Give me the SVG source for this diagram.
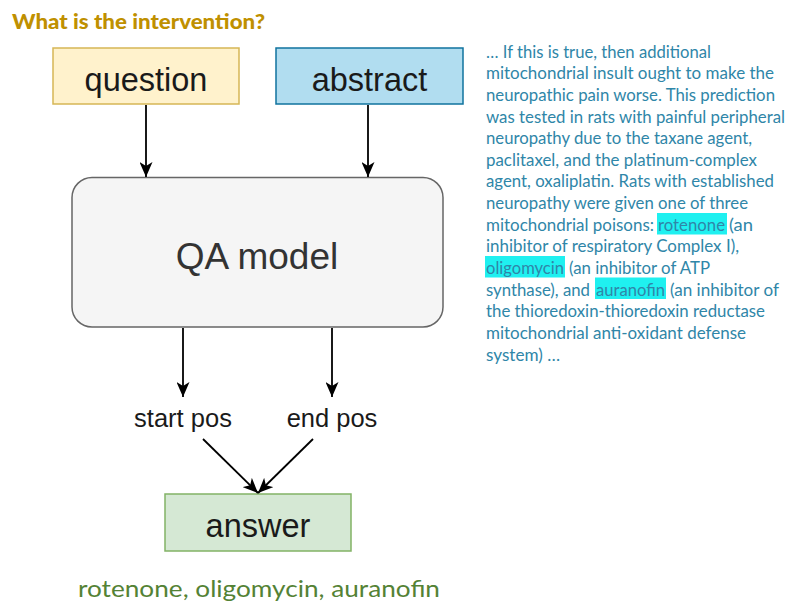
<svg xmlns="http://www.w3.org/2000/svg" width="787" height="605" viewBox="0 0 787 605">
  <defs>
    <marker id="arrow" viewBox="0 0 15 13" refX="15" refY="6.5" markerWidth="15" markerHeight="13" markerUnits="userSpaceOnUse" orient="auto">
      <path d="M0,0 L15,6.5 L0,13 L4,6.5 Z" fill="#000"/>
    </marker>
    <style>
      .box { stroke-width: 1.5; }
      .lbl { font-family: "Liberation Sans", Arial, sans-serif; fill: #1a1a1a; text-anchor: middle; }
      .conn { stroke: #000; stroke-width: 1.8; fill: none; marker-end: url(#arrow); }
      .para { font-family: Lato, "Open Sans", sans-serif; font-size: 16.5px; fill: #2f86a8; }
      .hl { fill: #1ff0f0; }
    </style>
  </defs>
  <rect width="787" height="605" fill="#fff"/>

  <!-- heading -->
  <text x="12" y="28.5" font-family="Lato, 'Open Sans', sans-serif" font-weight="900" font-size="20" fill="#bf9000" textLength="253" lengthAdjust="spacingAndGlyphs">What is the intervention?</text>

  <!-- nodes -->
  <g id="question">
    <rect class="box" x="53" y="48" width="186" height="56" fill="#fff2cc" stroke="#d6b656"/>
    <text class="lbl" x="146" y="91" font-size="32.5">question</text>
  </g>
  <g id="abstract">
    <rect class="box" x="276" y="48" width="187" height="56" fill="#b1ddf0" stroke="#10739e"/>
    <text class="lbl" x="369.5" y="91" font-size="32.5">abstract</text>
  </g>
  <g id="qa-model">
    <rect class="box" x="72" y="177.5" width="371" height="149.5" rx="20" ry="20" fill="#f5f5f5" stroke="#666"/>
    <text class="lbl" x="257" y="268.5" font-size="37" style="fill:#333">QA model</text>
  </g>
  <g id="start-pos">
    <text class="lbl" x="183" y="427" font-size="25.5">start pos</text>
  </g>
  <g id="end-pos">
    <text class="lbl" x="332" y="427" font-size="25.5">end pos</text>
  </g>
  <g id="answer">
    <rect class="box" x="165" y="494" width="186" height="57" fill="#d5e8d4" stroke="#82b366"/>
    <text class="lbl" x="258" y="537" font-size="32.5">answer</text>
  </g>

  <!-- connectors -->
  <g id="connectors">
    <line class="conn" x1="146" y1="105" x2="146" y2="177"/>
    <line class="conn" x1="368" y1="105" x2="368" y2="177"/>
    <line class="conn" x1="183" y1="328" x2="183" y2="397"/>
    <line class="conn" x1="332" y1="328" x2="332" y2="397"/>
    <line class="conn" x1="203" y1="439" x2="258" y2="493"/>
    <line class="conn" x1="313" y1="439" x2="258" y2="493"/>
  </g>

  <!-- answer spans -->
  <text x="259" y="597" font-family="Lato, 'Open Sans', sans-serif" font-size="24" fill="#548235" text-anchor="middle" textLength="362" lengthAdjust="spacingAndGlyphs">rotenone, oligomycin, auranofin</text>

  <!-- abstract excerpt with highlighted spans -->
  <rect class="hl" x="657" y="213" width="70" height="21.5"/>
  <rect class="hl" x="485" y="256" width="80" height="21.5"/>
  <rect class="hl" x="595" y="277.5" width="71" height="21.5"/>
  <g class="para">
    <text x="486" y="57.5" textLength="225" lengthAdjust="spacingAndGlyphs">… If this is true, then additional</text>
    <text x="486" y="79.2" textLength="288" lengthAdjust="spacingAndGlyphs">mitochondrial insult ought to make the</text>
    <text x="486" y="100.8" textLength="289" lengthAdjust="spacingAndGlyphs">neuropathic pain worse. This prediction</text>
    <text x="486" y="122.5" textLength="299" lengthAdjust="spacingAndGlyphs">was tested in rats with painful peripheral</text>
    <text x="486" y="144.1" textLength="266" lengthAdjust="spacingAndGlyphs">neuropathy due to the taxane agent,</text>
    <text x="486" y="165.8" textLength="271" lengthAdjust="spacingAndGlyphs">paclitaxel, and the platinum-complex</text>
    <text x="486" y="187.4" textLength="288" lengthAdjust="spacingAndGlyphs">agent, oxaliplatin. Rats with established</text>
    <text x="486" y="209.1" textLength="262" lengthAdjust="spacingAndGlyphs">neuropathy were given one of three</text>
    <text x="486" y="230.7" textLength="168" lengthAdjust="spacingAndGlyphs">mitochondrial poisons:</text>
    <text x="658" y="230.7" textLength="67" lengthAdjust="spacingAndGlyphs">rotenone</text>
    <text x="729" y="230.7" textLength="24" lengthAdjust="spacingAndGlyphs">(an</text>
    <text x="486" y="252.4" textLength="253" lengthAdjust="spacingAndGlyphs">inhibitor of respiratory Complex I),</text>
    <text x="486" y="274" textLength="78" lengthAdjust="spacingAndGlyphs">oligomycin</text>
    <text x="569" y="274" textLength="141" lengthAdjust="spacingAndGlyphs">(an inhibitor of ATP</text>
    <text x="486" y="295.7" textLength="104" lengthAdjust="spacingAndGlyphs">synthase), and</text>
    <text x="596" y="295.7" textLength="69" lengthAdjust="spacingAndGlyphs">auranofin</text>
    <text x="670" y="295.7" textLength="109" lengthAdjust="spacingAndGlyphs">(an inhibitor of</text>
    <text x="486" y="317.3" textLength="279" lengthAdjust="spacingAndGlyphs">the thioredoxin-thioredoxin reductase</text>
    <text x="486" y="339" textLength="260" lengthAdjust="spacingAndGlyphs">mitochondrial anti-oxidant defense</text>
    <text x="486" y="360.6" textLength="74" lengthAdjust="spacingAndGlyphs">system) …</text>
  </g>
</svg>
